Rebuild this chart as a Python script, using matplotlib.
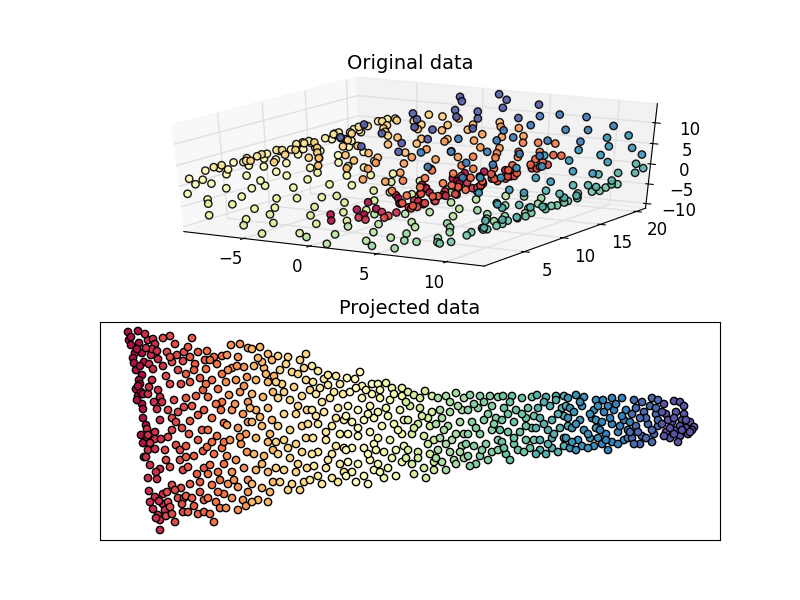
import numpy as np
import matplotlib
matplotlib.use('Agg')
import matplotlib.pyplot as plt
from mpl_toolkits.mplot3d import Axes3D

plt.rcParams['font.size'] = 12

# original data, one list of (x, y, z) per colour band
roll_colors = [0.025, 0.075, 0.125, 0.175, 0.225, 0.275, 0.325, 0.375, 0.425, 0.475,
               0.525, 0.575, 0.625, 0.675, 0.725, 0.775, 0.825, 0.875, 0.925, 0.975]
roll_00 = [(1.3,0.6,-4.8),(0.3,2.1,-4.7),(2.2,3.0,-4.6),(0.8,4.4,-4.8),(1.8,5.1,-4.7),(0.2,6.7,-4.7),(2.3,7.2,-4.6),(1.1,8.9,-4.8),(0.5,9.6,-4.7),(1.6,10.8,-4.7),(2.0,11.3,-4.6),(0.9,12.7,-4.8),(0.1,13.5,-4.7),(2.1,14.9,-4.6),(1.4,15.8,-4.8),(0.6,16.6,-4.8),(1.9,17.9,-4.7),(0.4,18.5,-4.7),(1.2,19.7,-4.8),(2.3,20.6,-4.6)]
roll_01 = [(3.5,1.1,-4.1),(2.5,1.9,-4.5),(4.4,3.3,-3.5),(2.9,4.0,-4.4),(3.9,5.6,-3.9),(4.6,6.2,-3.3),(3.2,7.9,-4.2),(2.6,8.4,-4.5),(4.1,9.8,-3.7),(3.6,10.3,-4.0),(2.8,11.9,-4.4),(4.5,12.5,-3.4),(3.0,13.2,-4.3),(4.0,14.7,-3.8),(2.4,15.4,-4.6),(3.4,16.9,-4.1),(4.3,17.5,-3.6),(2.7,18.2,-4.5),(3.7,19.3,-4.0),(4.2,20.8,-3.6)]
roll_02 = [(5.3,0.4,-2.5),(4.8,1.7,-3.1),(5.9,2.6,-1.5),(5.0,4.8,-2.9),(6.1,3.9,-1.0),(5.6,6.0,-2.0),(4.7,7.4,-3.2),(5.8,8.1,-1.6),(5.2,9.3,-2.7),(6.0,10.9,-1.2),(5.5,11.4,-2.2),(4.9,12.8,-3.0),(5.7,13.6,-1.9),(6.1,14.2,-1.0),(5.1,15.7,-2.8),(5.4,16.3,-2.4),(4.7,17.1,-3.2),(5.9,18.8,-1.4),(5.3,19.5,-2.5),(5.6,20.4,-2.0)]
roll_03 = [(6.3,0.9,1.0),(6.2,2.3,-0.6),(6.3,3.1,1.8),(6.3,4.5,0.3),(6.2,5.3,-0.2),(6.3,6.8,1.5),(6.3,7.6,0.6),(6.2,8.7,-0.8),(6.3,9.1,1.9),(6.3,10.6,0.1),(6.3,11.7,1.2),(6.2,12.3,-0.4),(6.3,13.9,0.8),(6.3,14.4,1.7),(6.2,15.2,-0.7),(6.3,16.8,0.4),(6.3,17.4,1.4),(6.2,18.6,-0.1),(6.3,19.8,1.0),(6.3,20.9,0.2)]
roll_04 = [(5.7,0.7,3.8),(6.2,1.6,2.3),(5.2,2.8,4.7),(6.0,3.5,3.0),(5.5,4.9,4.1),(6.2,5.9,2.5),(5.1,6.4,4.9),(5.8,7.8,3.5),(6.1,8.3,2.7),(5.4,9.5,4.3),(5.9,10.1,3.3),(5.0,11.6,5.0),(6.2,12.2,2.2),(5.6,13.4,3.9),(5.3,14.1,4.5),(6.0,15.6,2.9),(5.7,16.2,3.7),(5.1,17.8,4.8),(6.1,18.3,2.6),(5.5,19.1,4.2),(5.9,20.7,3.2)]
roll_05 = [(3.9,0.3,6.1),(4.8,1.4,5.2),(2.9,2.5,6.9),(4.4,3.8,5.7),(2.4,4.2,7.1),(3.5,5.7,6.4),(4.9,6.6,5.1),(3.1,7.3,6.8),(4.1,8.5,5.9),(2.6,9.9,7.0),(4.6,10.4,5.5),(3.7,11.1,6.2),(2.3,12.6,7.2),(4.3,13.7,5.8),(3.3,14.6,6.6),(4.9,15.1,5.0),(2.8,16.5,6.9),(3.8,17.3,6.1),(4.5,18.9,5.6),(2.5,19.4,7.0),(3.4,20.2,6.5)]
roll_06 = [(0.4,0.8,7.8),(2.0,1.5,7.3),(-0.9,2.9,7.9),(1.2,3.6,7.6),(-0.1,4.7,7.8),(1.8,5.4,7.4),(0.7,6.1,7.7),(-1.1,7.7,7.9),(2.2,8.0,7.2),(0.2,9.2,7.8),(1.4,10.7,7.5),(-0.5,11.5,7.9),(0.9,12.1,7.7),(2.1,13.3,7.3),(-1.0,14.8,7.9),(0.5,15.3,7.8),(1.6,16.7,7.5),(-0.2,17.2,7.8),(1.0,18.4,7.6),(-0.8,19.6,7.9),(1.9,20.3,7.4)]
roll_07 = [(-2.6,0.5,7.8),(-4.8,1.2,7.0),(-1.5,2.7,7.9),(-3.7,3.4,7.5),(-2.1,4.6,7.8),(-4.3,5.5,7.2),(-3.2,6.3,7.6),(-1.8,7.1,7.9),(-4.9,8.6,7.0),(-2.9,9.4,7.7),(-3.9,10.2,7.4),(-1.4,11.8,7.9),(-4.5,12.4,7.1),(-2.4,13.1,7.8),(-3.4,14.5,7.5),(-4.0,15.9,7.3),(-1.7,16.4,7.9),(-3.0,17.6,7.7),(-4.6,18.1,7.1),(-2.2,19.9,7.8),(-3.6,20.5,7.5)]
roll_08 = [(-6.9,0.2,5.4),(-5.2,1.3,6.8),(-7.7,2.2,4.4),(-6.0,3.7,6.2),(-7.2,4.3,5.0),(-5.5,5.8,6.6),(-6.4,6.5,5.9),(-7.9,7.0,4.1),(-5.8,8.8,6.4),(-7.0,9.7,5.3),(-5.3,10.5,6.8),(-7.5,11.2,4.7),(-6.2,12.9,6.1),(-5.0,13.0,6.9),(-6.7,14.3,5.6),(-7.8,15.5,4.3),(-5.6,16.1,6.5),(-7.3,17.7,4.9),(-6.1,18.7,6.1),(-5.4,19.2,6.7),(-7.6,20.6,4.6),(-6.5,20.0,5.8)]
roll_09 = [(-9.0,0.4,1.8),(-8.2,1.1,3.6),(-9.4,2.4,0.2),(-8.6,3.2,2.8),(-8.1,4.1,3.8),(-9.2,5.0,1.2),(-8.8,6.2,2.4),(-9.3,7.5,0.6),(-8.3,8.2,3.4),(-9.1,9.0,1.5),(-8.5,10.0,3.0),(-9.4,10.8,0.1),(-8.9,11.9,2.1),(-8.0,12.7,4.0),(-9.2,13.8,1.0),(-8.7,14.0,2.6),(-9.3,15.4,0.4),(-8.4,16.6,3.2),(-9.0,17.0,1.7),(-8.2,18.5,3.6),(-9.4,19.3,0.3),(-8.8,20.1,2.3),(-9.1,20.8,1.3)]
roll_10 = [(-9.4,0.6,-2.1),(-9.5,1.7,-0.5),(-8.9,2.0,-4.2),(-9.4,3.3,-1.3),(-9.2,4.6,-3.2),(-9.5,5.2,-0.2),(-8.8,6.9,-4.5),(-9.4,7.3,-1.8),(-9.1,8.4,-3.6),(-9.5,9.5,-0.9),(-9.3,10.6,-2.8),(-8.9,11.2,-4.0),(-9.4,12.0,-1.5),(-9.5,13.6,-0.3),(-9.0,14.2,-3.9),(-9.3,15.8,-2.5),(-9.5,16.3,-1.0),(-8.8,17.4,-4.4),(-9.2,18.0,-3.0),(-9.4,19.7,-1.9),(-9.5,20.2,-0.7),(-9.0,20.9,-3.8)]
roll_11 = [(-7.7,0.3,-6.6),(-8.6,1.6,-4.9),(-6.2,2.2,-8.3),(-8.0,3.4,-6.0),(-7.0,4.4,-7.4),(-8.4,5.1,-5.3),(-6.5,6.0,-8.0),(-7.4,7.6,-7.0),(-8.7,8.3,-4.7),(-6.8,9.1,-7.7),(-7.9,10.4,-6.2),(-6.1,11.0,-8.4),(-8.2,12.6,-5.6),(-7.2,13.7,-7.2),(-8.5,14.3,-5.0),(-6.4,15.2,-8.1),(-7.6,16.5,-6.8),(-8.3,17.8,-5.4),(-6.9,18.4,-7.6),(-7.8,19.0,-6.3),(-6.3,20.3,-8.2),(-8.1,20.8,-5.8)]
roll_12 = [(-3.9,0.5,-9.9),(-5.6,1.0,-8.8),(-2.3,2.4,-10.5),(-4.8,3.2,-9.4),(-5.9,4.5,-8.5),(-2.9,5.3,-10.3),(-4.3,6.8,-9.7),(-1.9,7.4,-10.6),(-5.2,8.7,-9.1),(-3.3,9.2,-10.1),(-2.6,10.9,-10.4),(-4.6,11.4,-9.5),(-5.7,12.2,-8.7),(-3.6,13.5,-10.0),(-2.0,14.1,-10.5),(-5.0,15.7,-9.3),(-4.1,16.3,-9.8),(-2.8,17.0,-10.3),(-5.4,18.6,-9.0),(-3.1,19.3,-10.2),(-1.8,20.0,-10.6),(-4.4,20.7,-9.7)]
roll_13 = [(0.7,0.9,-11.0),(-1.4,1.8,-10.7),(2.5,2.7,-10.8),(-0.4,3.6,-10.9),(3.4,4.2,-10.7),(1.3,5.5,-11.0),(-1.0,6.1,-10.8),(0.2,7.9,-11.0),(2.9,8.0,-10.8),(1.8,9.4,-10.9),(-1.6,10.3,-10.7),(-0.1,11.7,-11.0),(3.2,12.3,-10.8),(1.0,13.0,-11.0),(2.2,14.8,-10.9),(-0.8,15.1,-10.8),(0.5,16.6,-11.0),(3.5,17.5,-10.7),(1.5,18.2,-10.9),(-1.2,19.4,-10.8),(2.7,20.1,-10.8),(0.0,20.9,-11.0)]
roll_14 = [(5.9,0.6,-9.9),(3.8,1.3,-10.6),(8.1,2.1,-8.6),(4.9,3.4,-10.3),(7.0,4.0,-9.3),(3.6,5.8,-10.7),(6.5,6.3,-9.6),(8.4,7.1,-8.4),(5.4,8.2,-10.1),(4.3,9.7,-10.5),(7.6,10.0,-8.9),(6.2,11.5,-9.8),(8.3,12.8,-8.5),(5.2,13.3,-10.2),(3.7,14.6,-10.6),(7.3,15.0,-9.1),(4.6,16.7,-10.4),(6.8,17.2,-9.5),(8.0,18.4,-8.7),(5.7,19.6,-10.0),(4.0,20.3,-10.6),(7.8,20.8,-8.8),(6.1,2.9,-9.8),(7.2,12.1,-9.2)]
roll_15 = [(10.2,0.2,-6.4),(8.8,1.2,-8.0),(11.4,2.0,-4.2),(9.5,3.3,-7.2),(10.8,4.7,-5.3),(8.6,5.4,-8.2),(11.2,6.6,-4.6),(9.8,7.2,-6.9),(10.5,8.9,-5.9),(9.0,9.3,-7.8),(11.6,10.2,-3.8),(9.3,11.8,-7.4),(10.0,12.4,-6.6),(11.0,13.0,-5.0),(8.7,14.7,-8.1),(10.7,15.3,-5.5),(9.6,16.1,-7.1),(11.5,17.6,-4.0),(9.1,18.3,-7.7),(10.3,19.1,-6.2),(11.1,20.0,-4.8),(8.9,20.7,-7.9),(10.6,3.9,-5.7),(9.9,14.1,-6.8)]
roll_16 = [(12.4,0.5,-0.7),(11.8,1.4,-3.2),(12.5,2.3,1.2),(12.1,3.1,-2.3),(12.5,4.4,0.5),(11.7,5.6,-3.5),(12.3,6.2,-1.3),(12.5,7.7,1.8),(12.0,8.3,-2.6),(12.5,9.5,-0.1),(12.2,10.7,-1.9),(12.5,11.2,0.9),(11.9,12.9,-2.9),(12.4,13.4,-0.5),(12.5,14.5,1.5),(12.1,15.1,-2.1),(12.3,16.8,-1.5),(12.5,17.2,0.2),(11.7,18.0,-3.4),(12.5,19.6,1.0),(12.2,20.2,-1.7),(12.4,20.9,-0.9)]
roll_17 = [(11.7,0.8,5.4),(12.5,1.7,2.4),(10.8,2.5,7.5),(12.1,3.8,4.3),(11.2,4.3,6.5),(12.4,5.1,2.9),(10.9,6.7,7.2),(11.9,7.4,4.8),(12.3,8.6,3.3),(11.3,9.2,6.2),(10.7,10.5,7.8),(12.2,11.6,3.9),(11.5,12.3,5.8),(12.5,13.7,2.2),(11.0,14.4,6.9),(11.8,15.9,5.1),(12.3,16.0,3.5),(11.4,17.7,6.0),(10.8,18.5,7.4),(12.0,19.8,4.6),(12.4,20.5,2.7),(11.1,20.9,6.7)]
roll_18 = [(8.4,0.4,10.4),(10.4,1.1,8.2),(6.6,2.6,11.8),(9.1,3.7,9.6),(7.5,4.6,11.1),(10.1,5.2,8.6),(8.7,6.9,10.1),(6.3,7.5,12.0),(9.9,8.8,8.9),(7.8,9.6,10.9),(10.6,10.1,7.9),(8.0,11.3,10.7),(6.9,12.0,11.6),(9.4,13.2,9.3),(7.2,14.9,11.3),(10.5,15.5,8.1),(8.9,16.4,9.9),(6.5,17.3,11.9),(9.6,18.1,9.1),(7.0,19.0,11.5),(8.2,20.4,10.5),(10.0,20.8,8.7)]
roll_19 = [(3.6,0.7,13.3),(5.7,1.5,12.3),(1.3,2.0,13.9),(4.7,3.5,12.8),(2.5,4.8,13.6),(5.2,5.7,12.6),(0.3,6.3,14.1),(3.0,7.8,13.5),(4.1,8.1,13.1),(1.9,9.9,13.8),(5.5,10.6,12.4),(0.7,11.4,14.0),(3.2,12.5,13.4),(4.4,13.1,13.0),(2.1,14.2,13.7),(5.9,15.6,12.2),(1.0,16.9,14.0),(3.9,17.1,13.2),(0.1,18.2,14.1),(2.8,19.5,13.5),(4.9,20.0,12.7),(1.6,20.6,13.9),(3.4,14.8,13.4)]
roll_bands = [roll_00, roll_01, roll_02, roll_03, roll_04, roll_05, roll_06, roll_07, roll_08, roll_09,
              roll_10, roll_11, roll_12, roll_13, roll_14, roll_15, roll_16, roll_17, roll_18, roll_19]

# projected data, (x, y), one list per colour strip
proj_colors = [0.03, 0.08, 0.13, 0.17, 0.21, 0.26, 0.32, 0.38, 0.43, 0.49,
               0.55, 0.63, 0.70, 0.75, 0.79, 0.83, 0.88, 0.91, 0.95, 0.99]
proj_a = [(128,10),(129,18),(138,9),(131,23),(139,21),(135,31),(133,36),(142,31),(136,48),(142,53),(139,58),(136,67),(138,74),(142,82),(143,87),(143,96),(143,121),(144,135),(140,62),(141,70),(137,78),(134,41),(144,40),(141,113),(146,103),(131,15),(137,27),(140,44),(138,64),(143,72)]
proj_b = [(148,18),(153,17),(155,22),(145,12),(151,33),(149,42),(158,37),(153,47),(152,58),(148,72),(158,68),(160,75),(157,87),(162,80),(147,107),(155,110),(147,115),(155,117),(161,117),(148,128),(155,127),(150,143),(148,156),(157,157),(160,147),(149,169),(155,175),(163,182),(153,187),(158,193),(160,198),(160,208),(146,135),(152,27),(163,44),(160,98),(156,150),(163,172),(150,121),(146,26),(157,29),(149,65),(154,80),(148,113),(159,179),(165,188),(150,180),(156,196)]
proj_c = [(170,14),(175,22),(163,16),(167,30),(172,40),(177,33),(183,39),(170,62),(181,62),(168,88),(172,96),(178,90),(184,85),(172,108),(168,115),(182,106),(176,123),(166,138),(180,138),(170,145),(183,148),(172,163),(181,166),(168,180),(178,176),(170,185),(183,190),(166,194),(175,200),(184,176),(180,128),(166,54),(178,48),(174,78),(170,35),(184,30),(176,100),(165,128),(175,168),(182,182),(172,192),(167,170)]
proj_d = [(192,16),(188,25),(198,30),(195,42),(186,52),(190,60),(200,56),(196,74),(186,76),(190,99),(198,93),(204,88),(189,112),(198,118),(186,124),(194,134),(203,129),(188,145),(197,152),(204,146),(190,162),(200,170),(186,174),(194,184),(204,178),(188,190),(198,192),(202,108),(190,35),(203,68),(194,48),(205,38),(192,84),(186,135),(200,160),(192,176),(204,190)]
proj_e = [(207,29),(214,35),(222,34),(206,47),(212,58),(222,52),(218,67),(208,75),(222,80),(212,96),(221,88),(208,108),(217,114),(224,101),(207,125),(214,132),(222,126),(210,143),(218,150),(224,142),(212,163),(220,158),(208,176),(216,180),(224,172),(210,192),(220,186),(214,200),(224,120),(217,42),(210,38),(206,62),(216,82),(212,120),(208,152),(218,170)]
proj_f = [(227,33),(238,35),(248,26),(232,46),(244,45),(226,60),(236,58),(247,55),(229,73),(240,70),(248,80),(232,88),(243,92),(227,103),(238,106),(248,100),(230,118),(241,122),(227,134),(236,138),(247,130),(232,150),(244,146),(228,162),(238,165),(248,158),(232,176),(243,178),(226,186),(238,188),(248,170),(246,112),(231,23),(240,22),(237,44),(228,48),(244,64),(235,82),(240,115),(234,158),(246,184)]
proj_g = [(252,27),(260,25),(268,32),(254,44),(264,46),(272,38),(256,58),(268,60),(252,72),(263,75),(273,70),(256,88),(268,86),(252,100),(262,104),(272,98),(256,116),(268,120),(254,132),(264,134),(273,128),(256,148),(268,150),(252,162),(262,166),(273,160),(258,178),(268,180),(252,180),(262,40),(274,54),(270,112),(258,36),(266,52),(250,86),(260,95),(262,142),(270,170)]
proj_h = [(278,34),(288,35),(300,38),(306,32),(280,48),(292,50),(304,46),(282,62),(294,65),(306,58),(278,76),(290,78),(302,74),(284,92),(296,92),(307,88),(278,104),(290,108),(302,104),(284,118),(296,122),(306,116),(278,132),(290,136),(302,130),(284,148),(296,150),(307,146),(280,160),(292,162),(304,160),(288,168),(276,120),(298,52),(310,68),(286,42),(276,60),(298,84),(288,126),(276,146),(298,142),(300,168),(284,70),(308,102)]
proj_i = [(312,44),(318,49),(324,57),(336,54),(313,60),(328,63),(340,62),(316,72),(330,76),(343,72),(312,88),(324,90),(338,86),(318,102),(332,104),(344,98),(313,116),(326,118),(340,112),(318,130),(332,132),(344,126),(314,144),(326,146),(340,142),(318,154),(332,156),(344,150),(322,162),(338,160),(328,53),(310,158),(320,66),(334,70),(322,80),(316,94),(336,96),(326,110),(336,124),(328,138),(312,132)]
proj_j = [(347,56),(355,57),(362,64),(372,62),(350,70),(362,76),(372,72),(348,84),(358,88),(370,84),(352,100),(364,98),(374,96),(348,112),(358,114),(370,110),(352,126),(364,126),(374,122),(348,140),(358,142),(370,138),(352,150),(364,154),(374,148),(356,160),(368,162),(346,128),(360,50),(356,66),(368,92),(346,94),(358,106),(368,132),(346,154),(366,68)]
proj_k = [(378,62),(386,61),(392,66),(402,66),(380,76),(390,78),(402,74),(378,90),(388,94),(400,88),(382,104),(394,102),(404,98),(378,116),(390,118),(402,112),(384,130),(396,128),(378,142),(388,146),(402,140),(384,156),(396,154),(404,124),(380,68),(394,72),(386,86),(398,108),(376,128),(392,136),(380,150)]
proj_l = [(408,70),(414,73),(425,69),(432,74),(410,84),(420,86),(432,90),(408,98),(418,102),(430,104),(412,112),(424,114),(434,118),(408,128),(418,130),(430,132),(412,142),(424,146),(434,140),(414,152),(426,156),(420,76),(428,96),(434,148),(406,80),(422,94),(414,106),(428,122),(406,136),(418,136)]
proj_m = [(438,76),(446,74),(456,71),(464,76),(440,88),(450,90),(462,88),(436,102),(448,104),(460,100),(440,116),(452,118),(464,112),(438,128),(450,130),(462,124),(442,140),(454,138),(464,136),(446,148),(456,142),(458,84),(444,108),(436,136),(450,80),(442,96),(456,112),(446,122),(460,130)]
proj_n = [(470,73),(480,74),(490,74),(498,75),(468,88),(478,86),(492,84),(472,100),(484,98),(496,96),(468,112),(480,112),(492,108),(474,124),(486,122),(498,118),(468,134),(480,134),(492,130),(476,142),(488,138),(498,128),(484,80),(470,144),(474,82),(488,92),(476,106),(494,102),(482,128),(466,122)]
proj_o = [(503,74),(512,74),(522,76),(532,75),(504,86),(516,88),(528,86),(502,98),(514,100),(526,96),(508,110),(520,110),(532,106),(502,120),(514,122),(526,118),(506,132),(518,128),(530,126),(510,138),(524,130),(534,94),(500,108),(534,118),(510,80),(522,92),(508,92),(526,104),(514,116),(504,126)]
proj_p = [(537,73),(546,75),(556,74),(564,74),(538,86),(550,84),(562,86),(540,96),(552,98),(564,94),(536,106),(548,108),(560,106),(540,118),(552,116),(564,116),(540,128),(552,126),(564,124),(546,132),(558,130),(536,132),(556,78),(568,104),(544,80),(558,92),(544,102),(554,112),(548,122),(566,84)]
proj_q = [(568,76),(576,73),(584,75),(596,78),(570,86),(582,84),(594,88),(568,96),(580,98),(592,96),(572,106),(584,108),(596,106),(566,116),(578,118),(590,116),(570,126),(582,124),(594,124),(576,128),(588,126),(598,116),(574,90),(598,84),(580,80),(590,92),(576,102),(588,112),(572,120),(596,98)]
proj_r = [(603,78),(612,76),(622,76),(604,90),(614,88),(626,88),(602,100),(612,102),(624,98),(606,112),(618,110),(628,108),(602,122),(612,120),(624,118),(608,128),(618,122),(630,100),(608,84),(622,94),(600,108),(616,82),(610,96),(620,104),(628,116),(606,118)]
proj_s = [(634,78),(642,80),(652,76),(658,78),(632,92),(644,90),(656,92),(636,104),(648,102),(658,104),(632,116),(642,114),(654,112),(640,122),(652,120),(646,96),(636,86),(658,98),(650,84),(630,110),(640,96),(652,108),(646,116),(638,110),(656,86),(634,122)]
proj_t = [(664,82),(674,79),(680,80),(666,92),(676,90),(684,92),(662,102),(672,100),(682,98),(690,100),(666,110),(676,108),(686,106),(694,105),(670,116),(680,114),(688,112),(678,120),(668,98),(684,84),(692,108),(674,96),(662,90),(680,104),(670,106),(686,98),(664,114),(674,112),(682,108),(690,110)]
proj_strips = [proj_a, proj_b, proj_c, proj_d, proj_e, proj_f, proj_g, proj_h, proj_i, proj_j,
               proj_k, proj_l, proj_m, proj_n, proj_o, proj_p, proj_q, proj_r, proj_s, proj_t]


def flatten(groups, colors):
    points = np.array([p for group in groups for p in group], dtype=float)
    values = np.repeat(colors, [len(group) for group in groups])
    return points, values


fig = plt.figure(figsize=(8, 6), dpi=100)

ax = fig.add_subplot(211, projection='3d')
ax.apply_aspect = lambda position=None: None
ax.set_box_aspect((1, 1, 1), zoom=0.94)
ax.set_position([0.125, 0.533, 0.775, 0.3633])
roll, roll_values = flatten(roll_bands, roll_colors)
ax.scatter(roll[:, 0], roll[:, 1], roll[:, 2], c=roll_values, cmap='Spectral', vmin=0, vmax=1,
           s=28, edgecolors='k', linewidths=1, depthshade=False, alpha=0.9)
ax.set_xlim(-9.6, 12.7)
ax.set_ylim(0, 21.3)
ax.set_zlim(-11.2, 14.5)
ax.set_xticks([-5, 0, 5, 10])
ax.set_yticks([5, 10, 15, 20])
ax.set_zticks([-10, -5, 0, 5, 10])
for axis in (ax.xaxis, ax.yaxis, ax.zaxis):
    axis._axinfo['grid'].update(color=(0.88, 0.88, 0.88, 1), linewidth=1)
ax.set_title('Original data', fontsize=14, y=1.01)

ax2 = fig.add_axes([0.125, 0.1, 0.775, 0.3633])
proj, proj_values = flatten(proj_strips, proj_colors)
ax2.scatter(proj[:, 0], proj[:, 1], c=proj_values, cmap='Spectral', vmin=0, vmax=1,
            s=28, edgecolors='k', linewidths=1)
ax2.set_xlim(100, 720)
ax2.set_ylim(218, 0)
ax2.set_xticks([])
ax2.set_yticks([])
ax2.set_title('Projected data', fontsize=14)

fig.savefig('out.png', dpi=100)
